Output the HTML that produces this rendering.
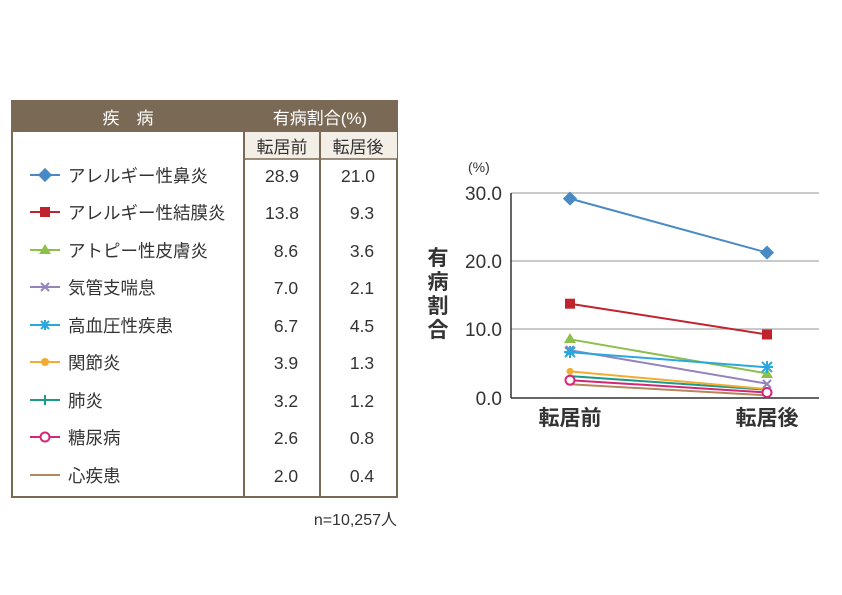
<!DOCTYPE html><html><head><meta charset="utf-8"><style>
body{margin:0;width:842px;height:595px;background:#fff;position:relative;font-family:"Liberation Sans","Noto Sans CJK JP",sans-serif;color:#333;overflow:hidden}
.a{position:absolute}
</style></head><body>
<svg class="a" style="left:0;top:0" width="842" height="595" font-family="Liberation Sans, Noto Sans CJK JP, sans-serif">
<rect x="12" y="101" width="385" height="396" fill="#fff" stroke="#7a6a55" stroke-width="2"/>
<rect x="12" y="101" width="385" height="31" fill="#7a6a55"/>
<rect x="244" y="132" width="153" height="27" fill="#f3eee6"/>
<line x1="244" y1="101" x2="244" y2="497" stroke="#7a6a55" stroke-width="2"/>
<line x1="320" y1="132" x2="320" y2="497" stroke="#7a6a55" stroke-width="2"/>
<line x1="244" y1="159" x2="397" y2="159" stroke="#7a6a55" stroke-width="1.5"/>
<text x="128" y="124" fill="#fff" font-size="17" text-anchor="middle">疾　病</text>
<text x="320" y="124" fill="#fff" font-size="17" text-anchor="middle">有病割合(%)</text>
<text x="282" y="153" font-size="17" text-anchor="middle" fill="#333">転居前</text>
<text x="358" y="153" font-size="17" text-anchor="middle" fill="#333">転居後</text>
<g stroke-width="2">
<line x1="30" y1="175" x2="60" y2="175" stroke="#4a8ac4"/><rect x="40" y="170" width="10" height="10" fill="#4a8ac4" transform="rotate(45 45 175)"/>
<line x1="30" y1="212" x2="60" y2="212" stroke="#c0222e"/><rect x="40" y="207" width="10" height="10" fill="#c0222e"/>
<line x1="30" y1="250" x2="60" y2="250" stroke="#8cc04a"/><polygon points="45,244 51,254 39,254" fill="#8cc04a"/>
<line x1="30" y1="287" x2="60" y2="287" stroke="#9384bb"/><path d="M41 283 L49 291 M49 283 L41 291" stroke="#9384bb"/>
<line x1="30" y1="325" x2="60" y2="325" stroke="#2aa8de"/><path d="M40 325 H50 M45 320 V330 M41 321 L49 329 M49 321 L41 329" stroke="#2aa8de"/>
<line x1="30" y1="362" x2="60" y2="362" stroke="#f2ac32"/><circle cx="45" cy="362" r="4" fill="#f2ac32"/>
<line x1="30" y1="400" x2="60" y2="400" stroke="#1e9a8a"/><path d="M45 395 V405" stroke="#1e9a8a"/>
<line x1="30" y1="437" x2="60" y2="437" stroke="#d6267a"/><circle cx="45" cy="437" r="4.5" fill="#fff" stroke="#d6267a"/>
<line x1="30" y1="475" x2="60" y2="475" stroke="#b5875a"/>
</g>
<g font-size="17.5" fill="#333">
<text x="68" y="182">アレルギー性鼻炎</text><text x="282" y="182" text-anchor="middle">28.9</text><text x="358" y="182" text-anchor="middle">21.0</text>
<text x="68" y="219">アレルギー性結膜炎</text><text x="282" y="219" text-anchor="middle">13.8</text><text x="362" y="219" text-anchor="middle">9.3</text>
<text x="68" y="257">アトピー性皮膚炎</text><text x="286" y="257" text-anchor="middle">8.6</text><text x="362" y="257" text-anchor="middle">3.6</text>
<text x="68" y="294">気管支喘息</text><text x="286" y="294" text-anchor="middle">7.0</text><text x="362" y="294" text-anchor="middle">2.1</text>
<text x="68" y="332">高血圧性疾患</text><text x="286" y="332" text-anchor="middle">6.7</text><text x="362" y="332" text-anchor="middle">4.5</text>
<text x="68" y="369">関節炎</text><text x="286" y="369" text-anchor="middle">3.9</text><text x="362" y="369" text-anchor="middle">1.3</text>
<text x="68" y="407">肺炎</text><text x="286" y="407" text-anchor="middle">3.2</text><text x="362" y="407" text-anchor="middle">1.2</text>
<text x="68" y="444">糖尿病</text><text x="286" y="444" text-anchor="middle">2.6</text><text x="362" y="444" text-anchor="middle">0.8</text>
<text x="68" y="482">心疾患</text><text x="286" y="482" text-anchor="middle">2.0</text><text x="362" y="482" text-anchor="middle">0.4</text>
<text x="397" y="525" text-anchor="end" font-size="16">n=10,257人</text>
</g>
<g stroke="#aaa" stroke-width="1.2">
<line x1="511" y1="193" x2="819" y2="193"/><line x1="511" y1="261" x2="819" y2="261"/><line x1="511" y1="329" x2="819" y2="329"/>
</g>
<line x1="511" y1="193" x2="511" y2="398" stroke="#333" stroke-width="1.5"/>
<line x1="511" y1="398" x2="819" y2="398" stroke="#333" stroke-width="1.5"/>
<g font-size="19" fill="#333" text-anchor="end">
<text x="502" y="200">30.0</text><text x="502" y="268">20.0</text><text x="502" y="336">10.0</text><text x="502" y="405">0.0</text>
</g>
<text x="468" y="172" font-size="14" fill="#333">(%)</text>
<g font-size="21" font-weight="bold" fill="#333" text-anchor="middle">
<text x="438" y="265">有</text><text x="438" y="289">病</text><text x="438" y="313">割</text><text x="438" y="337">合</text>
<text x="570" y="425">転居前</text><text x="767" y="425">転居後</text>
</g>
<g stroke-width="2" fill="none">
<line x1="570" y1="384.3" x2="767" y2="395.3" stroke="#b5875a"/>
<line x1="570" y1="376.1" x2="767" y2="389.8" stroke="#1e9a8a"/>
<line x1="570" y1="371.4" x2="767" y2="389.1" stroke="#f2ac32"/>
<line x1="570" y1="380.2" x2="767" y2="392.5" stroke="#d6267a"/>
<line x1="570" y1="350.2" x2="767" y2="383.7" stroke="#9384bb"/>
<line x1="570" y1="339.3" x2="767" y2="373.4" stroke="#8cc04a"/>
<line x1="570" y1="352.2" x2="767" y2="367.3" stroke="#2aa8de"/>
<line x1="570" y1="303.7" x2="767" y2="334.5" stroke="#c0222e"/>
<line x1="570" y1="198.6" x2="767" y2="252.6" stroke="#4a8ac4"/>
</g>
<circle cx="570" cy="371.4" r="3.5" fill="#f2ac32"/>
<circle cx="570" cy="380.2" r="4.5" fill="#fff" stroke="#d6267a" stroke-width="2"/><circle cx="767" cy="392.5" r="4.5" fill="#fff" stroke="#d6267a" stroke-width="2"/>
<path d="M566 346 L574 354 M574 346 L566 354 M763 380 L771 388 M771 380 L763 388" stroke="#9384bb" stroke-width="2"/>
<polygon points="570,333 576,343 564,343" fill="#8cc04a"/><polygon points="767,368 773,378 761,378" fill="#8cc04a"/>
<path d="M564 352 H576 M570 346 V358 M565 347 L575 357 M575 347 L565 357 M761 367 H773 M767 361 V373 M762 362 L772 372 M772 362 L762 372" stroke="#2aa8de" stroke-width="2"/>
<rect x="565" y="298.7" width="10" height="10" fill="#c0222e"/><rect x="762" y="329.5" width="10" height="10" fill="#c0222e"/>
<rect x="565" y="193.6" width="10" height="10" fill="#4a8ac4" transform="rotate(45 570 198.6)"/><rect x="762" y="247.6" width="10" height="10" fill="#4a8ac4" transform="rotate(45 767 252.6)"/>
</svg>
</body></html>
